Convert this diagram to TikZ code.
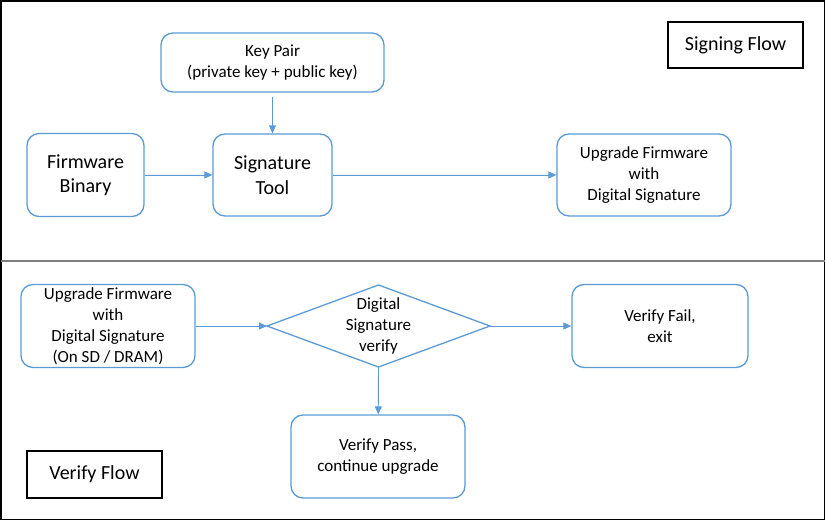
\documentclass[tikz,border=0pt]{standalone}
\usepackage{fontspec}
\setmainfont{Carlito}
\usetikzlibrary{arrows.meta}
\definecolor{bleu}{HTML}{5B9BD5}
\definecolor{gristrait}{HTML}{7F7F7F}
\begin{document}
\begin{tikzpicture}[x=1pt,y=-1pt]
			% Styles
			\tikzstyle{fleche}=[-{Triangle[length=8pt,width=7pt]},draw=bleu,fill=bleu,line width=0.9pt]
			\tikzstyle{boite}=[draw=bleu,line width=1.3pt,rounded corners=12pt,align=center,inner sep=0pt,font=\fontsize{17}{21}\selectfont]
			\tikzstyle{grandeboite}=[boite,font=\fontsize{20}{24.5}\selectfont]
			\tikzstyle{titre}=[draw=black,line width=1.2pt,inner sep=0pt,font=\fontsize{20}{24}\selectfont]
			\tikzstyle{losange}=[draw=bleu,line width=1.3pt]
			% Dimensions
			\def\LigneSignature{175}
			\def\LigneVerif{326}
			% Cadre
			\useasboundingbox (0,0) rectangle (826,521);
			\draw[line width=1.5pt] (1,1) rectangle (824.5,519.5);
			\draw[gristrait,line width=1.2pt] (1,261) -- (824.5,261);
			% Noeuds : signature
			\node[titre,minimum width=135pt,minimum height=46pt] (SF) at (735.5,45) {Signing Flow};
			\node[boite,minimum width=223pt,minimum height=59pt] (KP) at (272.5,62.5) {Key Pair\\(private key + public key)};
			\node[grandeboite,minimum width=117pt,minimum height=83pt] (FB) at (85.5,\LigneSignature) {Firmware\\Binary};
			\node[grandeboite,minimum width=119pt,minimum height=82pt] (ST) at (272.5,\LigneSignature) {Signature\\Tool};
			\node[boite,minimum width=174pt,minimum height=82pt] (UF) at (644,\LigneSignature) {Upgrade Firmware\\with\\Digital Signature};
			% Noeuds : verification
			\node[boite,minimum width=174pt,minimum height=83pt] (UFs) at (108,\LigneVerif) {Upgrade Firmware\\with\\Digital Signature\\(On SD / DRAM)};
			\node[align=center,inner sep=0pt,font=\fontsize{17}{21}\selectfont] (DS) at (378.5,\LigneVerif) {Digital\\Signature\\verify};
			\coordinate (DSg) at (267,\LigneVerif);
			\coordinate (DSd) at (490,\LigneVerif);
			\coordinate (DSh) at (378.5,285);
			\coordinate (DSb) at (378.5,367);
			\draw[losange] (DSh) -- (DSd) -- (DSb) -- (DSg) -- cycle;
			\node[boite,minimum width=176pt,minimum height=83pt] (VF) at (660,\LigneVerif) {Verify Fail,\\exit};
			\node[boite,minimum width=174pt,minimum height=83pt] (VP) at (378,456.5) {Verify Pass,\\continue upgrade};
			\node[titre,minimum width=135pt,minimum height=47pt] (VFl) at (94.5,474.5) {Verify Flow};
			% Arcs
			\draw[fleche,shorten <=4pt] (KP) -- (ST);
			\draw[fleche] (FB) -- (ST);
			\draw[fleche] (ST) -- (UF);
			\draw[fleche] (UFs) -- (DSg);
			\draw[fleche] (DSd) -- (VF);
			\draw[fleche] (DSb) -- (VP);
\end{tikzpicture}
\end{document}
